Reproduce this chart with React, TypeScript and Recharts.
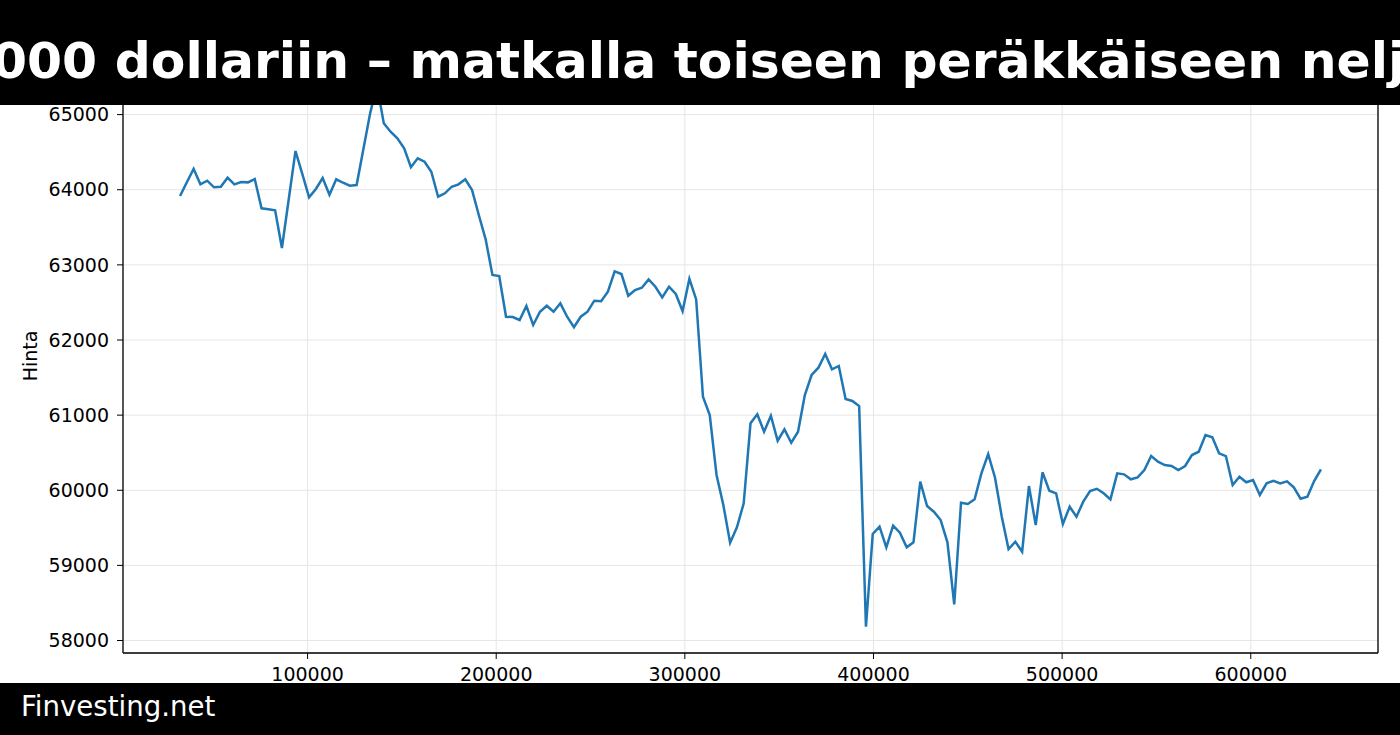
import React from 'react';
import {
  LineChart,
  Line,
  XAxis,
  YAxis,
  CartesianGrid,
  ReferenceLine,
} from 'recharts';

const TITLE = '000 dollariin – matkalla toiseen peräkkäiseen nelj';
const FOOTER = 'Finvesting.net';
const Y_LABEL = 'Hinta';

// x positions: one sample every 3600 units starting at 32400
const X_START = 32400;
const X_STEP = 3600;

const PRICES: number[] = [
  63916, 64100, 64276, 64072, 64120, 64032, 64040, 64160, 64072, 64102,
  64098, 64142, 63752, 63740, 63726, 63224, 63870, 64515, 64210, 63899,
  64010, 64156, 63933, 64139, 64093, 64053, 64062, 64541, 65020, 65390,
  64885, 64772, 64683, 64551, 64299, 64418, 64373, 64240, 63907, 63952,
  64040, 64072, 64139, 63995, 63660, 63340, 62865, 62852, 62310, 62306,
  62266, 62452, 62200, 62376, 62456, 62376, 62488, 62310, 62169, 62310,
  62376, 62523, 62515, 62643, 62914, 62878, 62589, 62665, 62696, 62807,
  62709, 62568, 62709, 62612, 62385, 62815, 62540, 61245, 61001, 60203,
  59803, 59302, 59507, 59826, 60891, 61011, 60779, 60992, 60659, 60811,
  60633, 60779, 61268, 61534, 61631, 61813, 61610, 61654, 61214, 61188,
  61121, 58184, 59418, 59515, 59240, 59528, 59435, 59240, 59307, 60114,
  59790, 59714, 59604, 59307, 58482, 59834, 59817, 59879, 60225, 60482,
  60171, 59648, 59218, 59315, 59182, 60056, 59537, 60239, 59994, 59959,
  59550, 59781, 59648, 59848, 59990, 60020, 59960, 59879, 60225, 60212,
  60146, 60172, 60269, 60455, 60380, 60336, 60323, 60269, 60323, 60469,
  60513, 60735, 60705, 60492, 60455, 60070, 60180, 60106, 60136, 59937,
  60092, 60127, 60092, 60119, 60039, 59887, 59914, 60123, 60279,
];

const X_TICKS = [100000, 200000, 300000, 400000, 500000, 600000];
const Y_TICKS = [58000, 59000, 60000, 61000, 62000, 63000, 64000, 65000];

const X_DOMAIN: [number, number] = [2160, 667440];
const Y_DOMAIN: [number, number] = [57834, 65740];

const data = PRICES.map((p, i) => ({ t: X_START + i * X_STEP, price: p }));

const FONT = '"DejaVu Sans", sans-serif';
const tickStyle = { fill: '#000', fontSize: 19, fontFamily: FONT };

export default function App() {
  return (
    <div
      style={{
        position: 'absolute',
        top: 0,
        left: 0,
        width: 1400,
        height: 735,
        overflow: 'hidden',
        background: '#fff',
      }}
    >
      <LineChart
        width={1400}
        height={735}
        data={data}
        margin={{ top: 59, right: 22, left: 0, bottom: 42 }}
      >
        <CartesianGrid stroke="#e6e6e6" strokeWidth={1} />
        <XAxis
          dataKey="t"
          type="number"
          domain={X_DOMAIN}
          ticks={X_TICKS}
          height={40}
          tick={tickStyle}
          tickSize={6}
          tickMargin={9}
          tickLine={{ stroke: '#000' }}
          axisLine={{ stroke: '#000', strokeWidth: 1.3 }}
          allowDataOverflow
        />
        <YAxis
          type="number"
          domain={Y_DOMAIN}
          ticks={Y_TICKS}
          width={123}
          tick={tickStyle}
          tickSize={6}
          tickMargin={8}
          tickLine={{ stroke: '#000' }}
          axisLine={{ stroke: '#000', strokeWidth: 1.3 }}
          allowDataOverflow
          label={{
            value: Y_LABEL,
            angle: -90,
            position: 'insideLeft',
            offset: 30,
            style: { textAnchor: 'middle', fill: '#000', fontSize: 19, fontFamily: FONT },
          }}
        />
        <ReferenceLine x={X_DOMAIN[1]} stroke="#000" strokeWidth={1.3} ifOverflow="visible" />
        <Line
          type="linear"
          dataKey="price"
          stroke="#1f77b4"
          strokeWidth={2.5}
          dot={false}
          isAnimationActive={false}
        />
      </LineChart>

      <svg
        width={1400}
        height={105}
        style={{ position: 'absolute', top: 0, left: 0 }}
      >
        <rect x={0} y={0} width={1400} height={105} fill="#000" />
        <text
          x={-8}
          y={78}
          fill="#fff"
          fontFamily={FONT}
          fontWeight="bold"
          fontSize={50.4}
        >
          {TITLE}
        </text>
      </svg>

      <svg
        width={1400}
        height={52}
        style={{ position: 'absolute', top: 683, left: 0 }}
      >
        <rect x={0} y={0} width={1400} height={52} fill="#000" />
        <text x={21} y={33} fill="#fff" fontFamily={FONT} fontSize={27.6}>
          {FOOTER}
        </text>
      </svg>
    </div>
  );
}
